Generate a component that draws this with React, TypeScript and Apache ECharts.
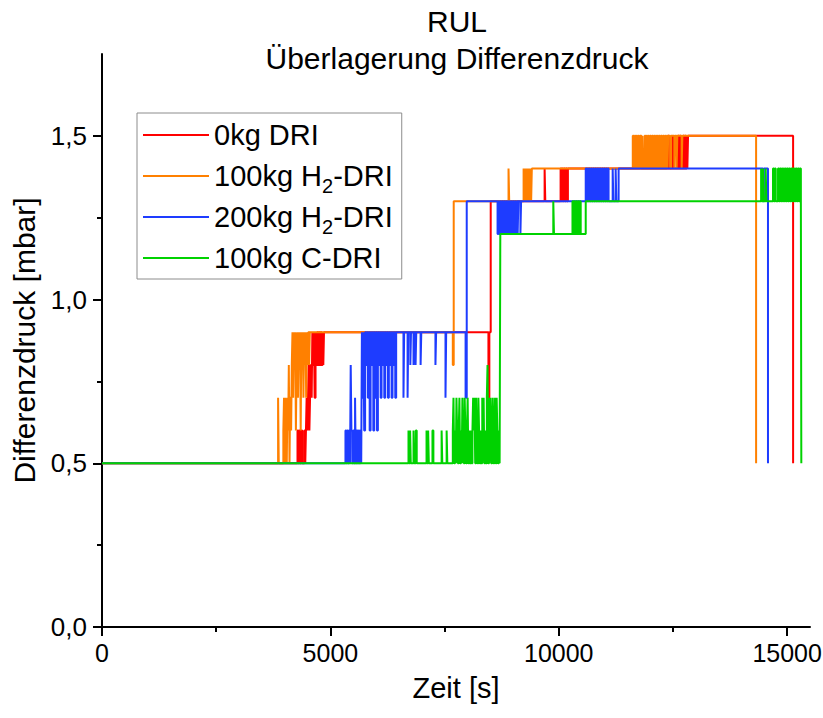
import React, { useEffect, useRef } from 'react';
import * as echarts from 'echarts';

type Pt = [number, number];

const FONT = '"Liberation Sans", Arial, Helvetica, sans-serif';

const chartTitle = 'RUL';
const chartSubtitle = 'Überlagerung Differenzdruck';
const xAxisName = 'Zeit [s]';
const yAxisName = 'Differenzdruck [mbar]';

const seriesNames = ['0kg DRI', '100kg H2-DRI', '200kg H2-DRI', '100kg C-DRI'];
const seriesColors = ['#FF0000', '#FF8000', '#1E3CFF', '#00D200'];

const xTicks = [0, 5000, 10000, 15000];
const xMinorTicks = [2500, 7500, 12500];
const yTicks = [0, 0.5, 1.0, 1.5];
const yMinorTicks = [0.25, 0.75, 1.25];

// Pressure readings [time s, mbar]; each value holds until the next entry.
const red0kgDri: Pt[] = [
  [0, 0.5],
  [4280, 0.6], [4300, 0.5], [4320, 0.6], [4340, 0.5], [4360, 0.6], [4385, 0.5],
  [4430, 0.6], [4450, 0.5], [4465, 0.6], [4480, 0.7], [4495, 0.6], [4510, 0.7], [4525, 0.8], [4540, 0.6],
  [4555, 0.7], [4570, 0.8], [4590, 0.7], [4605, 0.9], [4620, 0.8], [4640, 0.9], [4655, 0.7], [4675, 0.9],
  [4690, 0.8], [4710, 0.9], [4730, 0.8], [4750, 0.9], [4770, 0.8], [4790, 0.9], [4810, 0.8], [4830, 0.9],
  [4845, 0.8], [4860, 0.9],
  [8460, 0.7], [8480, 0.9], [8510, 1.3],
  [9690, 1.4], [9705, 1.3],
  [10040, 1.4], [10060, 1.3], [10080, 1.4], [10100, 1.3], [10120, 1.4], [10140, 1.3], [10160, 1.4],
  [10180, 1.3], [10200, 1.4],
  [12390, 1.5], [12410, 1.4], [12500, 1.5], [12515, 1.4], [12610, 1.5], [12630, 1.4], [12650, 1.5],
  [12670, 1.4], [12720, 1.5], [12740, 1.4], [12760, 1.5], [12780, 1.4], [12800, 1.5], [12815, 1.4],
  [12830, 1.5],
  [15130, 0.5],
];

const orange100kgH2Dri: Pt[] = [
  [0, 0.5],
  [3855, 0.7], [3870, 0.5],
  [3970, 0.6], [3985, 0.7], [4000, 0.5], [4015, 0.7], [4030, 0.6], [4045, 0.5], [4060, 0.7], [4075, 0.6],
  [4090, 0.8], [4105, 0.5], [4120, 0.7], [4140, 0.6], [4155, 0.8], [4170, 0.9], [4185, 0.7], [4200, 0.9],
  [4215, 0.8], [4230, 0.9], [4245, 0.6], [4260, 0.8], [4275, 0.9], [4290, 0.7], [4305, 0.9], [4320, 0.8],
  [4335, 0.9], [4350, 0.6], [4365, 0.9], [4380, 0.8], [4395, 0.9], [4410, 0.7], [4425, 0.9], [4440, 0.8],
  [4455, 0.9], [4470, 0.7], [4485, 0.9], [4500, 0.8], [4515, 0.9], [4535, 0.8], [4550, 0.9],
  [7680, 0.8], [7700, 1.3],
  [8900, 1.4], [8915, 1.3],
  [9230, 1.4], [9245, 1.3], [9260, 1.4], [9275, 1.3], [9290, 1.4], [9305, 1.3], [9320, 1.4], [9335, 1.3],
  [9350, 1.4], [9365, 1.3], [9380, 1.4], [9395, 1.3], [9410, 1.4],
  [11620, 1.5], [11640, 1.4], [11660, 1.5], [11680, 1.4], [11700, 1.5], [11720, 1.4], [11740, 1.5],
  [11760, 1.4], [11780, 1.5], [11810, 1.4], [11830, 1.5], [11845, 1.4], [11880, 1.5], [11900, 1.4],
  [11920, 1.5], [11940, 1.4], [11960, 1.5], [11980, 1.4], [12000, 1.5], [12020, 1.4], [12040, 1.5],
  [12060, 1.4], [12080, 1.5], [12100, 1.4], [12120, 1.5], [12140, 1.4], [12160, 1.5], [12180, 1.4],
  [12200, 1.5], [12220, 1.4], [12240, 1.5], [12260, 1.4], [12280, 1.5], [12300, 1.4], [12320, 1.5],
  [12340, 1.4], [12360, 1.5], [12380, 1.4], [12395, 1.5],
  [12440, 1.4], [12460, 1.5], [12530, 1.4], [12545, 1.5], [12580, 1.4], [12595, 1.5], [12690, 1.4],
  [12705, 1.5],
  [14320, 0.5],
];

const blue200kgH2Dri: Pt[] = [
  [0, 0.5],
  [5330, 0.6], [5350, 0.5], [5370, 0.6], [5390, 0.5], [5410, 0.6], [5430, 0.5], [5445, 0.8], [5460, 0.6],
  [5480, 0.5], [5500, 0.6], [5520, 0.5], [5540, 0.7], [5555, 0.5], [5575, 0.6], [5595, 0.5], [5615, 0.6],
  [5635, 0.5], [5655, 0.6], [5675, 0.5], [5690, 0.9], [5705, 0.7], [5725, 0.9], [5740, 0.6], [5760, 0.9],
  [5780, 0.8], [5800, 0.9], [5820, 0.7], [5840, 0.9], [5860, 0.6], [5880, 0.9], [5900, 0.8], [5920, 0.9],
  [5940, 0.6], [5960, 0.9], [5980, 0.7], [6000, 0.9], [6020, 0.6], [6040, 0.9], [6060, 0.8], [6080, 0.9],
  [6100, 0.7], [6120, 0.9], [6140, 0.8], [6160, 0.9], [6180, 0.7], [6200, 0.9], [6220, 0.8], [6240, 0.9],
  [6260, 0.7], [6280, 0.9], [6300, 0.8], [6320, 0.9], [6340, 0.7], [6360, 0.9], [6380, 0.8], [6400, 0.9],
  [6420, 0.7], [6440, 0.9],
  [6600, 0.7], [6615, 0.9], [6690, 0.7], [6705, 0.9], [6750, 0.8], [6765, 0.9], [6820, 0.8], [6835, 0.9],
  [6865, 0.8], [6880, 0.9], [6975, 0.8], [6990, 0.9], [7300, 0.8], [7315, 0.9], [7520, 0.7], [7535, 0.9],
  [7960, 0.7], [7985, 1.3],
  [8660, 1.2], [8680, 1.3], [8700, 1.2], [8720, 1.3], [8740, 1.2], [8760, 1.3], [8780, 1.2], [8800, 1.3],
  [8820, 1.2], [8840, 1.3], [8860, 1.2], [8880, 1.3], [8900, 1.2], [8920, 1.3], [8940, 1.2], [8960, 1.3],
  [8980, 1.2], [9000, 1.3], [9020, 1.2], [9040, 1.3], [9060, 1.2], [9080, 1.3], [9100, 1.2], [9115, 1.3],
  [9160, 1.2], [9175, 1.3],
  [10590, 1.4], [10610, 1.3], [10630, 1.4], [10650, 1.3], [10670, 1.4], [10690, 1.3], [10710, 1.4],
  [10730, 1.3], [10750, 1.4], [10770, 1.3], [10790, 1.4], [10810, 1.3], [10830, 1.4], [10850, 1.3],
  [10870, 1.4], [10890, 1.3], [10910, 1.4], [10930, 1.3], [10950, 1.4], [10970, 1.3], [10990, 1.4],
  [11010, 1.3], [11030, 1.4], [11050, 1.3], [11070, 1.4], [11090, 1.3], [11180, 1.4], [11195, 1.3],
  [11245, 1.4], [11260, 1.3], [11310, 1.4],
  [14470, 1.3], [14490, 1.4],
  [14580, 0.5],
];

const green100kgCDri: Pt[] = [
  [0, 0.5],
  [6710, 0.6], [6725, 0.5], [6745, 0.6], [6760, 0.5], [6820, 0.6], [6835, 0.5], [6870, 0.6], [6890, 0.5],
  [7105, 0.6], [7120, 0.5], [7140, 0.6], [7155, 0.5], [7235, 0.6], [7255, 0.5],
  [7435, 0.6], [7450, 0.5], [7545, 0.6], [7560, 0.5],
  [7680, 0.6], [7695, 0.7], [7710, 0.5], [7730, 0.6], [7745, 0.5], [7760, 0.7], [7775, 0.6], [7790, 0.5],
  [7810, 0.6], [7825, 0.7], [7840, 0.5], [7860, 0.6], [7875, 0.5], [7890, 0.7], [7905, 0.6], [7920, 0.5],
  [7940, 0.7], [7955, 0.6], [7970, 0.5], [7990, 0.6], [8005, 0.7], [8020, 0.5], [8040, 0.6], [8055, 0.5],
  [8075, 0.6], [8090, 0.5], [8110, 0.6], [8125, 0.7], [8140, 0.6], [8155, 0.7], [8170, 0.5], [8190, 0.7],
  [8205, 0.6], [8220, 0.5], [8240, 0.7], [8255, 0.6], [8270, 0.5], [8290, 0.6], [8305, 0.5], [8325, 0.7],
  [8340, 0.6], [8355, 0.7], [8370, 0.5], [8390, 0.6], [8405, 0.5], [8425, 0.7], [8440, 0.8], [8455, 0.5],
  [8475, 0.7], [8490, 0.6], [8505, 0.7], [8520, 0.5], [8540, 0.6], [8555, 0.7], [8570, 0.5], [8590, 0.6],
  [8605, 0.7], [8620, 0.5], [8640, 0.7], [8655, 0.6], [8670, 0.5], [8690, 0.6], [8705, 0.5], [8720, 1.2],
  [9880, 1.3], [9895, 1.2],
  [10300, 1.3], [10320, 1.2], [10340, 1.3], [10360, 1.2], [10380, 1.3], [10400, 1.2], [10420, 1.3],
  [10440, 1.2], [10460, 1.3], [10480, 1.2],
  [10590, 1.3],
  [14430, 1.4], [14445, 1.3], [14470, 1.4], [14485, 1.3], [14530, 1.4], [14545, 1.3],
  [14690, 1.4], [14710, 1.3], [14730, 1.4], [14750, 1.3], [14800, 1.4], [14820, 1.3], [14840, 1.4],
  [14860, 1.3], [14880, 1.4], [14900, 1.3], [14920, 1.4], [14940, 1.3], [14960, 1.4], [14980, 1.3],
  [15000, 1.4], [15020, 1.3], [15040, 1.4], [15060, 1.3], [15080, 1.4], [15100, 1.3], [15120, 1.4],
  [15140, 1.3], [15160, 1.4], [15180, 1.3], [15200, 1.4], [15220, 1.3], [15240, 1.4], [15260, 1.3],
  [15280, 1.4], [15300, 1.3],
  [15310, 0.5],
];

const seriesData = [red0kgDri, orange100kgH2Dri, blue200kgH2Dri, green100kgCDri];

const X_MAX = 15500;
const Y_MAX = 1.75;

export default function App() {
  const ref = useRef<HTMLDivElement>(null);

  useEffect(() => {
    if (!ref.current) return;
    const chart = echarts.init(ref.current, null, { renderer: 'svg' });

    const axisLine = { show: true, onZero: false, lineStyle: { color: '#000', width: 2 } };
    const tickStyle = { color: '#000', width: 2 };

    chart.setOption({
      animation: false,
      textStyle: { fontFamily: FONT },
      graphic: [
        {
          type: 'text',
          x: 457,
          y: 21,
          style: {
            text: chartTitle,
            fontSize: 30,
            fontFamily: FONT,
            fill: '#000',
            textAlign: 'center',
            textVerticalAlign: 'middle',
          },
        },
        {
          type: 'text',
          x: 457,
          y: 58,
          style: {
            text: chartSubtitle,
            fontSize: 30,
            fontFamily: FONT,
            fill: '#000',
            textAlign: 'center',
            textVerticalAlign: 'middle',
          },
        },
      ],
      legend: {
        show: true,
        orient: 'vertical',
        left: 137,
        top: 113,
        z: 10,
        data: seriesNames,
        itemWidth: 66,
        itemHeight: 14,
        itemGap: 1,
        padding: [2, 9, 1, 5],
        borderColor: '#8c8c8c',
        borderWidth: 1,
        backgroundColor: '#fff',
        selectedMode: false,
        itemStyle: { opacity: 0 },
        lineStyle: { width: 2 },
        formatter: (name: string) => name.replace('H2', 'H{sub|2}'),
        textStyle: {
          fontSize: 29,
          lineHeight: 40,
          color: '#000',
          fontFamily: FONT,
          rich: {
            sub: { fontSize: 20, lineHeight: 20, padding: [20, 0, 0, 0], fontFamily: FONT, color: '#000' },
          },
        },
      },
      grid: { left: 102, right: 13, top: 54, bottom: 91, outerBoundsMode: 'none' },
      xAxis: [
        {
          type: 'value',
          position: 'bottom',
          min: 0,
          max: X_MAX,
          axisLine,
          axisTick: { show: true, customValues: xTicks, length: 9, lineStyle: tickStyle },
          axisLabel: {
            customValues: xTicks,
            formatter: (v: number) => String(v),
            fontSize: 25,
            color: '#000',
            margin: 13,
            fontFamily: FONT,
          },
          splitLine: { show: false },
          name: xAxisName,
          nameLocation: 'middle',
          nameGap: 46,
          nameTextStyle: { fontSize: 29, color: '#000', fontFamily: FONT },
        },
        {
          type: 'value',
          position: 'bottom',
          min: 0,
          max: X_MAX,
          axisLine: { show: false },
          axisTick: { show: true, customValues: xMinorTicks, length: 5, lineStyle: tickStyle },
          axisLabel: { show: false },
          splitLine: { show: false },
        },
      ],
      yAxis: [
        {
          type: 'value',
          position: 'left',
          min: 0,
          max: Y_MAX,
          axisLine,
          axisTick: { show: true, customValues: yTicks, length: 9, lineStyle: tickStyle },
          axisLabel: {
            customValues: yTicks,
            formatter: (v: number) => v.toFixed(1).replace('.', ','),
            fontSize: 26,
            color: '#000',
            margin: 15,
            fontFamily: FONT,
          },
          splitLine: { show: false },
          name: yAxisName,
          nameLocation: 'middle',
          nameGap: 44,
          nameTextStyle: { fontSize: 30, color: '#000', fontFamily: FONT },
        },
        {
          type: 'value',
          position: 'left',
          min: 0,
          max: Y_MAX,
          axisLine: { show: false },
          axisTick: { show: true, customValues: yMinorTicks, length: 5, lineStyle: tickStyle },
          axisLabel: { show: false },
          splitLine: { show: false },
        },
      ],
      series: seriesNames.map((name, i) => ({
        name,
        type: 'line',
        step: 'end',
        xAxisIndex: 0,
        yAxisIndex: 0,
        data: seriesData[i],
        symbol: 'none',
        showSymbol: false,
        silent: true,
        z: 2 + i,
        color: seriesColors[i],
        lineStyle: { color: seriesColors[i], width: 2 },
        itemStyle: { color: seriesColors[i] },
      })),
    });

    return () => chart.dispose();
  }, []);

  return (
    <div
      ref={ref}
      style={{ position: 'absolute', left: 0, top: 0, width: 823, height: 718 }}
    />
  );
}
